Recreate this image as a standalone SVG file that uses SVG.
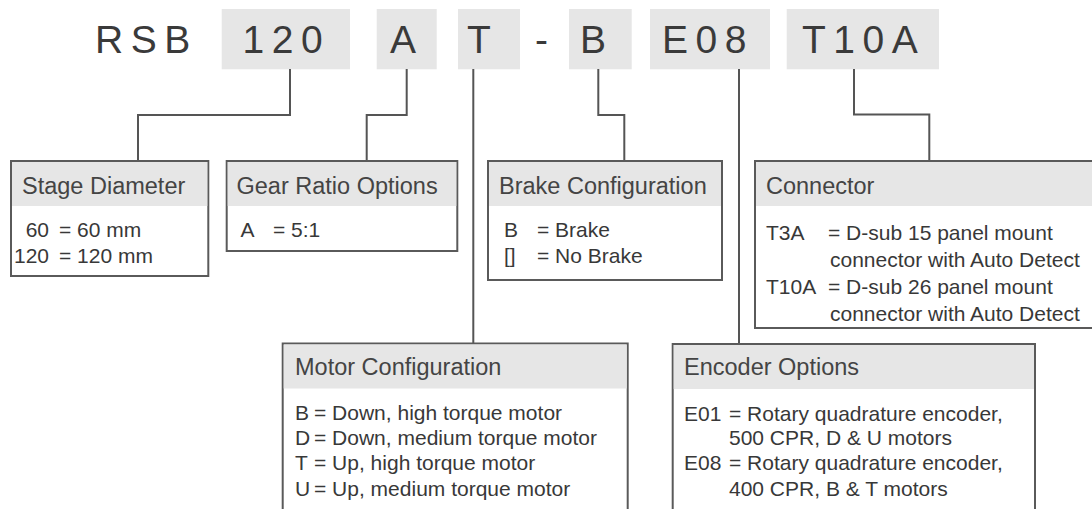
<svg xmlns="http://www.w3.org/2000/svg" width="1092" height="509" viewBox="0 0 1092 509">
<style>
.code{fill:#e6e6e6}
.big{font-family:"Liberation Sans",Arial,sans-serif;font-size:39px;fill:#3a3a3a;letter-spacing:7.5px}
.box{fill:#fff;stroke:#5a5a5a;stroke-width:2}
.band{fill:#e6e6e6}
.hd{font-family:"Liberation Sans",Arial,sans-serif;font-size:23.5px;fill:#444}
.bd{font-family:"Liberation Sans",Arial,sans-serif;font-size:21px;fill:#383838}
.ln{fill:none;stroke:#555;stroke-width:2}
</style>
<rect width="1092" height="509" fill="#fff"/>
<g id="code">
<rect class="code" x="221.7" y="9" width="128.3" height="60.3"/>
<rect class="code" x="376.7" y="9" width="60" height="60.3"/>
<rect class="code" x="458" y="9" width="62" height="60.3"/>
<rect class="code" x="569" y="9" width="62.7" height="60.3"/>
<rect class="code" x="650" y="9" width="120" height="60.3"/>
<rect class="code" x="786.7" y="9" width="152.3" height="60.3"/>
<text class="big" x="95" y="53.3">RSB</text>
<text class="big" x="242.5" y="53.3">120</text>
<text class="big" x="390" y="53.3">A</text>
<text class="big" x="467" y="53.3">T</text>
<text class="big" x="535" y="53.3">-</text>
<text class="big" x="580" y="53.3">B</text>
<text class="big" x="662" y="53.3">E08</text>
<text class="big" x="802" y="53.3">T10A</text>
</g>
<g id="connectors">
<path class="ln" d="M290,69 V115 H138 V161"/>
<path class="ln" d="M406.7,69 V115 H366.7 V161"/>
<path class="ln" d="M473.3,69 V343.5"/>
<path class="ln" d="M598.3,69 V115 H624.3 V161"/>
<path class="ln" d="M739,69 V344"/>
<path class="ln" d="M854,69 V114.5 H929.3 V161"/>
</g>
<g id="stage">
<rect class="box" x="11" y="161" width="197.3" height="115"/>
<rect class="band" x="12" y="162" width="195.3" height="44"/>
<text class="hd" x="22" y="193.5">Stage Diameter</text>
<text class="bd" x="49" y="237" text-anchor="end">60</text>
<text class="bd" x="59" y="237">= 60 mm</text>
<text class="bd" x="49" y="263" text-anchor="end">120</text>
<text class="bd" x="59" y="263">= 120 mm</text>
</g>
<g id="gear">
<rect class="box" x="226.7" y="161" width="230.6" height="90"/>
<rect class="band" x="227.7" y="162" width="228.6" height="44"/>
<text class="hd" x="236.5" y="193.5">Gear Ratio Options</text>
<text class="bd" x="240.5" y="237">A</text>
<text class="bd" x="273" y="237">= 5:1</text>
</g>
<g id="brake">
<rect class="box" x="488" y="161" width="234" height="119"/>
<rect class="band" x="489" y="162" width="232" height="44"/>
<text class="hd" x="499" y="193.5">Brake Configuration</text>
<text class="bd" x="504" y="237">B</text>
<text class="bd" x="537" y="237">= Brake</text>
<text class="bd" x="504" y="263">[]</text>
<text class="bd" x="537" y="263">= No Brake</text>
</g>
<g id="connector">
<rect class="box" x="755" y="161" width="340" height="167"/>
<rect class="band" x="756" y="162" width="338" height="44"/>
<text class="hd" x="766" y="194">Connector</text>
<text class="bd" x="766" y="240">T3A</text>
<text class="bd" x="828" y="240">= D-sub 15 panel mount</text>
<text class="bd" x="830" y="267">connector with Auto Detect</text>
<text class="bd" x="766" y="294">T10A</text>
<text class="bd" x="828" y="294">= D-sub 26 panel mount</text>
<text class="bd" x="830" y="320.5">connector with Auto Detect</text>
</g>
<g id="motor">
<rect class="box" x="282.7" y="343.5" width="345" height="175"/>
<rect class="band" x="283.7" y="344.5" width="343" height="44"/>
<text class="hd" x="295" y="375">Motor Configuration</text>
<text class="bd" x="295" y="420">B</text>
<text class="bd" x="314" y="420">= Down, high torque motor</text>
<text class="bd" x="295" y="445">D</text>
<text class="bd" x="314" y="445">= Down, medium torque motor</text>
<text class="bd" x="295" y="470">T</text>
<text class="bd" x="314" y="470">= Up, high torque motor</text>
<text class="bd" x="295" y="495.5">U</text>
<text class="bd" x="314" y="495.5">= Up, medium torque motor</text>
</g>
<g id="encoder">
<rect class="box" x="672.7" y="344" width="362.3" height="175"/>
<rect class="band" x="673.7" y="345" width="360.3" height="44"/>
<text class="hd" x="684" y="375">Encoder Options</text>
<text class="bd" x="684" y="420.5">E01</text>
<text class="bd" x="729" y="420.5">= Rotary quadrature encoder,</text>
<text class="bd" x="729" y="445">500 CPR, D &amp; U motors</text>
<text class="bd" x="684" y="470">E08</text>
<text class="bd" x="729" y="470">= Rotary quadrature encoder,</text>
<text class="bd" x="729" y="495.5">400 CPR, B &amp; T motors</text>
</g>
</svg>
